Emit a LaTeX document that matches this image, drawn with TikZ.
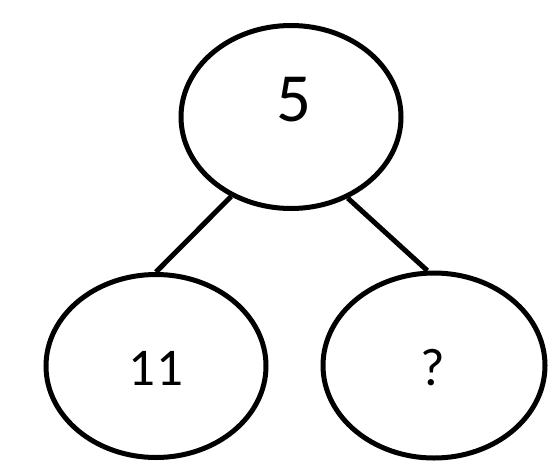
\documentclass[tikz,border=0pt]{standalone}
\usepackage{fontspec}
\setmainfont{Carlito}
\usetikzlibrary{shapes.geometric}
\begin{document}
\begin{tikzpicture}[x=1pt,y=-1pt,
  bubble/.style={draw=black,line width=5pt,ellipse,inner sep=0pt,minimum width=220pt,minimum height=183pt},
  link/.style={draw=black,line width=5pt}]
\useasboundingbox (0,0) rectangle (559,472);
\node[bubble] (top) at (291,117) {};
\node[bubble] (left) at (156,366) {};
\node[bubble,minimum width=222pt,minimum height=185pt] (right) at (434,365.5) {};
\node[font=\fontsize{69}{69}\selectfont] (t5) at (294,100) {5};
\node[font=\fontsize{53}{53}\selectfont] (t11) at (156,368) {1\kern2pt1};
\node[font=\fontsize{53}{53}\selectfont] (tq) at (433,368) {?};
\draw[link] (top.233.7) -- (left.90.6);
\draw[link] (top.305.3) -- (right.94);
\end{tikzpicture}
\end{document}
